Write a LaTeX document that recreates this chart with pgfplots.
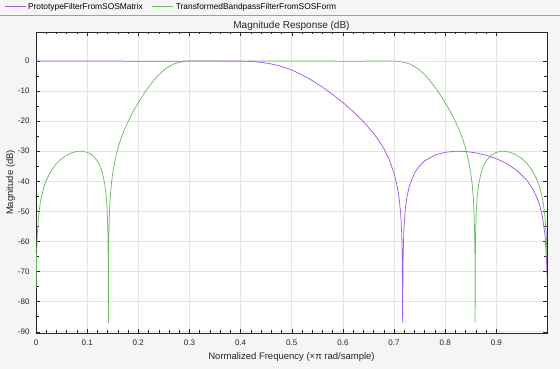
\documentclass[border=0pt]{standalone}
\usepackage{fontspec}
\setmainfont{Liberation Sans}
\usepackage{pgfplots}
\pgfplotsset{compat=1.18}
\definecolor{bg}{RGB}{245,245,245}
\definecolor{purp}{RGB}{165,90,230}
\definecolor{grn}{RGB}{110,190,100}
\definecolor{axc}{RGB}{38,38,38}
\definecolor{gridc}{RGB}{228,228,228}
\begin{document}
\begin{tikzpicture}[x=1pt,y=1pt]
\useasboundingbox (0,0) rectangle (560,369);
\fill[bg] (0,0) rectangle (560,369);
\draw[gray!75, line width=0.8pt] (0,354) -- (560,354);
\begin{axis}[
  at={(36pt,36pt)}, anchor=south west,
  scale only axis, width=511pt, height=301pt,
  xmin=0, xmax=0.999, ymin=-90.4, ymax=9.6,
  xtick={0,0.1,0.2,0.3,0.4,0.5,0.6,0.7,0.8,0.9},
  xticklabels={0,0.1,0.2,0.3,0.4,0.5,0.6,0.7,0.8,0.9},
  ytick={-90,-80,-70,-60,-50,-40,-30,-20,-10,0},
  minor x tick num=4, minor y tick num=1,
  grid=major,
  major grid style={draw=gridc, line width=0.6pt},
  axis line style={draw=axc, line width=0.6pt},
  tick style={draw=axc, line width=0.5pt},
  major tick length=4pt, minor tick length=2.5pt,
  tick align=inside,
  axis background/.style={fill=white},
  /pgf/number format/assume math mode=true,
  tick label style={font=\fontsize{8}{9.6}\selectfont, text=axc},
  xticklabel style={yshift=-3pt},
  yticklabel style={xshift=-3pt},
  xlabel={Normalized Frequency (×π rad/sample)},
  ylabel={Magnitude (dB)},
  label style={font=\fontsize{9.5}{11}\selectfont, text=axc},
  xlabel style={at={(axis description cs:0.5,0)}, anchor=center, yshift=-24pt},
  ylabel style={yshift=-4pt},
  title={Magnitude Response (dB)},
  title style={at={(axis description cs:0.5,1)}, anchor=center, yshift=0pt, font=\fontsize{10}{12}\selectfont, text=axc},
  legend style={at={(axis description cs:-0.0626,1.0831)}, anchor=west, draw=none, fill=none,
    inner sep=0pt, outer sep=0pt, font=\fontsize{8.4}{10}\selectfont,
    legend columns=2, /tikz/every even column/.append style={column sep=7pt}},
  legend cell align=left,
  legend image code/.code={\draw[#1] (0pt,0pt) -- (21pt,0pt);},
]
\addlegendimage{draw=purp, line width=1pt}
\addlegendentry{PrototypeFilterFromSOSMatrix}
\addlegendimage{draw=grn, line width=1pt}
\addlegendentry{TransformedBandpassFilterFromSOSForm}
\addplot[purp, line width=0.75pt, forget plot] table {
x y
0 0
0.05 -0.009
0.1 -0.033
0.15 -0.065
0.2 -0.093
0.25 -0.098
0.3 -0.068
0.35 -0.011
0.38 -0.005
0.4 -0.053
0.42 -0.189
0.44 -0.476
0.46 -0.995
0.48 -1.829
0.5 -3.035
0.52 -4.617
0.54 -6.534
0.56 -8.731
0.58 -11.172
0.6 -13.846
0.62 -16.800
0.64 -20.135
0.66 -24.077
0.67 -26.417
0.68 -29.162
0.69 -32.569
0.7 -37.269
0.705 -40.646
0.71 -45.714
0.713 -50.870
0.715 -57.247
0.716 -63.795
0.7168 -87.0
0.7175 -67.465
0.719 -56.668
0.722 -49.141
0.725 -45.323
0.73 -41.487
0.74 -37.233
0.75 -34.792
0.76 -33.189
0.78 -31.289
0.8 -30.360
0.82 -30.019
0.83 -30.015
0.84 -30.106
0.86 -30.550
0.88 -31.336
0.9 -32.493
0.92 -34.107
0.94 -36.367
0.96 -39.726
0.97 -42.169
0.98 -45.651
0.985 -48.136
0.99 -51.648
0.995 -57.663
0.998 -65.620
0.999 -71.640
};
\addplot[grn, line width=0.75pt, forget plot] table {
x y
0.0003 -75.5
0.001 -65.620
0.0025 -57.663
0.005 -51.648
0.0075 -48.136
0.01 -45.651
0.015 -42.169
0.02 -39.726
0.03 -36.367
0.04 -34.107
0.05 -32.493
0.06 -31.336
0.07 -30.550
0.08 -30.106
0.085 -30.015
0.09 -30.019
0.1 -30.360
0.11 -31.289
0.12 -33.189
0.125 -34.792
0.13 -37.233
0.135 -41.487
0.1375 -45.323
0.139 -49.141
0.1405 -56.668
0.14125 -67.465
0.1416 -87.0
0.142 -63.795
0.1425 -57.247
0.1435 -50.870
0.145 -45.714
0.1475 -40.646
0.15 -37.269
0.155 -32.569
0.16 -29.162
0.165 -26.417
0.17 -24.077
0.18 -20.135
0.19 -16.800
0.2 -13.846
0.21 -11.172
0.22 -8.731
0.23 -6.534
0.24 -4.617
0.25 -3.035
0.26 -1.829
0.27 -0.995
0.28 -0.476
0.29 -0.189
0.3 -0.053
0.31 -0.005
0.325 -0.011
0.35 -0.068
0.375 -0.098
0.4 -0.093
0.425 -0.065
0.45 -0.033
0.475 -0.009
0.5 0
0.525 -0.009
0.55 -0.033
0.575 -0.065
0.6 -0.093
0.625 -0.098
0.65 -0.068
0.675 -0.011
0.69 -0.005
0.7 -0.053
0.71 -0.189
0.72 -0.476
0.73 -0.995
0.74 -1.829
0.75 -3.035
0.76 -4.617
0.77 -6.534
0.78 -8.731
0.79 -11.172
0.8 -13.846
0.81 -16.800
0.82 -20.135
0.83 -24.077
0.835 -26.417
0.84 -29.162
0.845 -32.569
0.85 -37.269
0.8525 -40.646
0.855 -45.714
0.8565 -50.870
0.8575 -57.247
0.858 -63.795
0.8584 -87.0
0.85875 -67.465
0.8595 -56.668
0.861 -49.141
0.8625 -45.323
0.865 -41.487
0.87 -37.233
0.875 -34.792
0.88 -33.189
0.89 -31.289
0.9 -30.360
0.91 -30.019
0.915 -30.015
0.92 -30.106
0.93 -30.550
0.94 -31.336
0.95 -32.493
0.96 -34.107
0.97 -36.367
0.98 -39.726
0.985 -42.169
0.99 -45.651
0.9925 -48.136
0.995 -51.648
0.9975 -57.663
0.999 -65.620
};
\end{axis}
\end{tikzpicture}
\end{document}
